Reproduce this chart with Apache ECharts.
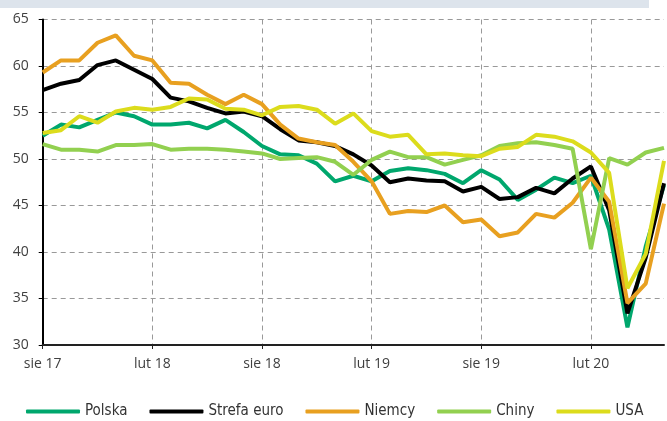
<!DOCTYPE html>
<html>
<head>
<meta charset="utf-8">
<script src="https://cdn.jsdelivr.net/npm/echarts@6/dist/echarts.min.js"></script>
<style>
  html, body { margin: 0; padding: 0; background: #fff; }
  #chart { width: 667px; height: 421px; }
</style>
</head>
<body>
<div id="chart"></div>
<script>
// Manufacturing PMI, monthly, Aug 2017 – Jun 2020
const months = [
  'sie 17','wrz 17','paź 17','lis 17','gru 17',
  'sty 18','lut 18','mar 18','kwi 18','maj 18','cze 18','lip 18','sie 18','wrz 18','paź 18','lis 18','gru 18',
  'sty 19','lut 19','mar 19','kwi 19','maj 19','cze 19','lip 19','sie 19','wrz 19','paź 19','lis 19','gru 19',
  'sty 20','lut 20','mar 20','kwi 20','maj 20','cze 20'
];

const polska = [52.5, 53.7, 53.4, 54.2, 55.0, 54.6, 53.7, 53.7, 53.9, 53.3, 54.2, 52.9, 51.4, 50.5, 50.4, 49.5, 47.6,
  48.2, 47.6, 48.7, 49.0, 48.8, 48.4, 47.4, 48.8, 47.8, 45.6, 46.7, 48.0, 47.4, 48.2, 42.4, 31.9, 40.6, 47.2];
const strefaEuro = [57.4, 58.1, 58.5, 60.1, 60.6, 59.6, 58.6, 56.6, 56.2, 55.5, 54.9, 55.1, 54.6, 53.2, 52.0, 51.8, 51.4,
  50.5, 49.3, 47.5, 47.9, 47.7, 47.6, 46.5, 47.0, 45.7, 45.9, 46.9, 46.3, 47.9, 49.2, 44.5, 33.4, 39.4, 47.4];
const niemcy = [59.3, 60.6, 60.6, 62.5, 63.3, 61.1, 60.6, 58.2, 58.1, 56.9, 55.9, 56.9, 55.9, 53.7, 52.2, 51.8, 51.5,
  49.7, 47.6, 44.1, 44.4, 44.3, 45.0, 43.2, 43.5, 41.7, 42.1, 44.1, 43.7, 45.3, 48.0, 45.4, 34.5, 36.6, 45.2];
const chiny = [51.6, 51.0, 51.0, 50.8, 51.5, 51.5, 51.6, 51.0, 51.1, 51.1, 51.0, 50.8, 50.6, 50.0, 50.1, 50.2, 49.7,
  48.3, 49.9, 50.8, 50.2, 50.2, 49.4, 49.9, 50.4, 51.4, 51.7, 51.8, 51.5, 51.1, 40.3, 50.1, 49.4, 50.7, 51.2];
const usa = [52.8, 53.1, 54.6, 53.9, 55.1, 55.5, 55.3, 55.6, 56.5, 56.4, 55.4, 55.3, 54.7, 55.6, 55.7, 55.3, 53.8,
  54.9, 53.0, 52.4, 52.6, 50.5, 50.6, 50.4, 50.3, 51.1, 51.3, 52.6, 52.4, 51.9, 50.7, 48.5, 36.1, 39.8, 49.8];

const seriesNames = ['Polska', 'Strefa euro', 'Niemcy', 'Chiny', 'USA'];
const seriesData = [polska, strefaEuro, niemcy, chiny, usa];
const seriesColors = ['#00a76d', '#000000', '#e8a020', '#92d050', '#dcdc1c'];

const labelFont = '"Open Sans", "DejaVu Sans", sans-serif';
const chart = echarts.init(document.getElementById('chart'), null, { renderer: 'canvas' });

chart.setOption({
  animation: false,
  backgroundColor: '#ffffff',
  graphic: [{
    type: 'rect',
    shape: { x: 0, y: 0, width: 649, height: 8 },
    style: { fill: '#dde4ec' },
    silent: true
  }],
  grid: { left: 42.7, right: 3, top: 19.5, bottom: 76, containLabel: false },
  legend: {
    left: 26,
    top: 404,
    padding: 0,
    itemWidth: 54,
    itemHeight: 4,
    itemGap: 22,
    icon: 'roundRect',
    textStyle: { fontFamily: '"DejaVu Sans Condensed", "Liberation Sans Narrow", sans-serif', fontSize: 15, color: '#333' },
    data: seriesNames
  },
  xAxis: {
    type: 'category',
    data: months,
    boundaryGap: false,
    axisLine: { lineStyle: { color: '#222', width: 2 } },
    axisTick: { show: true, interval: 5, length: 4, lineStyle: { color: '#222', width: 1 } },
    axisLabel: { interval: 5, margin: 12, fontFamily: labelFont, fontSize: 14, color: '#404040' },
    splitLine: { show: true, interval: 5, lineStyle: { color: '#999', type: [5, 4], width: 1 } }
  },
  yAxis: {
    type: 'value',
    min: 30,
    max: 65,
    interval: 5,
    axisLine: { show: true, lineStyle: { color: '#000', width: 2 } },
    axisTick: { show: true, length: 4, lineStyle: { color: '#000', width: 1 } },
    axisLabel: { margin: 14, fontFamily: labelFont, fontSize: 14, color: '#404040' },
    splitLine: { show: true, lineStyle: { color: '#999', type: [5, 4], width: 1 } }
  },
  series: seriesNames.map((name, i) => ({
    name: name,
    type: 'line',
    data: seriesData[i],
    showSymbol: false,
    symbol: 'none',
    color: seriesColors[i],
    lineStyle: { width: 4, color: seriesColors[i] },
    emphasis: { disabled: true }
  }))
});
</script>
</body>
</html>
